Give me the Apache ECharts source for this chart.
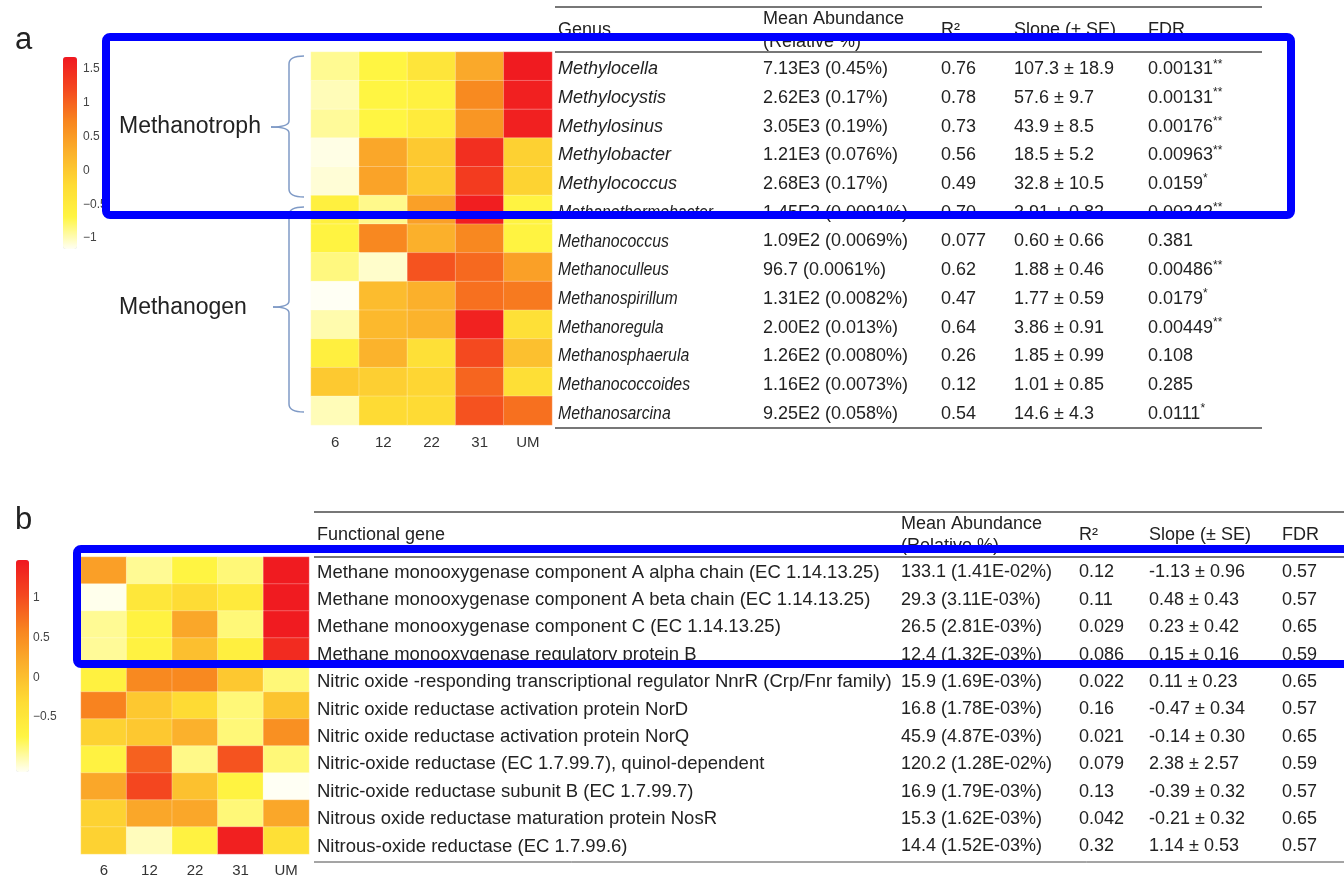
<!DOCTYPE html>
<html>
<head>
<meta charset="utf-8">
<script src="https://cdn.jsdelivr.net/npm/echarts@6/dist/echarts.min.js"></script>
<style>
  html, body { margin: 0; padding: 0; background: #fff; }
  #chart { width: 1344px; height: 878px; }
</style>
</head>
<body>
<div id="chart"></div>
<script>
// ---- data ----
const sites = ['6', '12', '22', '31', 'UM'];

// panel a: methane-cycling genera (z-scored abundance per site)
const genera = ['Methylocella', 'Methylocystis', 'Methylosinus', 'Methylobacter', 'Methylococcus',
  'Methanothermobacter', 'Methanococcus', 'Methanoculleus', 'Methanospirillum', 'Methanoregula',
  'Methanosphaerula', 'Methanococcoides', 'Methanosarcina'];
const genusHeat = [
  [-0.90, -0.68, -0.40, 0.35, 1.65],
  [-1.00, -0.68, -0.62, 0.68, 1.60],
  [-0.92, -0.68, -0.50, 0.55, 1.60],
  [-1.12, 0.38, 0.00, 1.45, -0.10],
  [-1.08, 0.42, 0.00, 1.33, -0.12],
  [-0.60, -0.88, 0.45, 1.62, -0.65],
  [-0.65, 0.70, 0.28, 0.70, -0.65],
  [-0.85, -1.05, 1.12, 0.95, 0.45],
  [-1.16, 0.15, 0.28, 0.90, 0.82],
  [-0.97, 0.18, 0.25, 1.58, -0.30],
  [-0.58, 0.25, -0.30, 1.20, 0.10],
  [0.00, -0.08, -0.15, 0.98, -0.28],
  [-1.00, -0.22, -0.22, 1.13, 0.90]
];
const genusAbundance = ['7.13E3 (0.45%)', '2.62E3 (0.17%)', '3.05E3 (0.19%)', '1.21E3 (0.076%)', '2.68E3 (0.17%)',
  '1.45E2 (0.0091%)', '1.09E2 (0.0069%)', '96.7 (0.0061%)', '1.31E2 (0.0082%)', '2.00E2 (0.013%)',
  '1.26E2 (0.0080%)', '1.16E2 (0.0073%)', '9.25E2 (0.058%)'];
const genusR2 = ['0.76', '0.78', '0.73', '0.56', '0.49', '0.70', '0.077', '0.62', '0.47', '0.64', '0.26', '0.12', '0.54'];
const genusSlope = ['107.3 ± 18.9', '57.6 ± 9.7', '43.9 ± 8.5', '18.5 ± 5.2', '32.8 ± 10.5', '3.91 ± 0.82',
  '0.60 ± 0.66', '1.88 ± 0.46', '1.77 ± 0.59', '3.86 ± 0.91', '1.85 ± 0.99', '1.01 ± 0.85', '14.6 ± 4.3'];
const genusFDR = ['0.00131', '0.00131', '0.00176', '0.00963', '0.0159', '0.00242', '0.381', '0.00486',
  '0.0179', '0.00449', '0.108', '0.285', '0.0111'];
const genusStars = ['**', '**', '**', '**', '*', '**', '', '**', '*', '**', '', '', '*'];
const groupNames = ['Methanotroph', 'Methanogen'];

// panel b: functional genes
const genes = [
  'Methane monooxygenase component A alpha chain (EC 1.14.13.25)',
  'Methane monooxygenase component A beta chain (EC 1.14.13.25)',
  'Methane monooxygenase component C (EC 1.14.13.25)',
  'Methane monooxygenase regulatory protein B',
  'Nitric oxide -responding transcriptional regulator NnrR (Crp/Fnr family)',
  'Nitric oxide reductase activation protein NorD',
  'Nitric oxide reductase activation protein NorQ',
  'Nitric-oxide reductase (EC 1.7.99.7), quinol-dependent',
  'Nitric-oxide reductase subunit B (EC 1.7.99.7)',
  'Nitrous oxide reductase maturation protein NosR',
  'Nitrous-oxide reductase (EC 1.7.99.6)'
];
const geneHeat = [
  [0.33, -0.95, -0.73, -0.88, 1.45],
  [-1.17, -0.50, -0.32, -0.55, 1.45],
  [-0.95, -0.70, 0.25, -0.88, 1.45],
  [-0.96, -0.70, 0.00, -0.65, 1.30],
  [-0.68, 0.55, 0.55, -0.10, -0.88],
  [0.60, -0.10, -0.30, -0.88, -0.05],
  [-0.20, -0.10, 0.15, -0.88, 0.48],
  [-0.70, 0.85, -0.92, 0.95, -0.88],
  [0.25, 1.05, -0.02, -0.72, -1.19],
  [-0.20, 0.25, 0.25, -0.88, 0.25],
  [-0.20, -1.05, -0.70, 1.40, -0.38]
];
const geneAbundance = ['133.1 (1.41E-02%)', '29.3 (3.11E-03%)', '26.5 (2.81E-03%)', '12.4 (1.32E-03%)',
  '15.9 (1.69E-03%)', '16.8 (1.78E-03%)', '45.9 (4.87E-03%)', '120.2 (1.28E-02%)', '16.9 (1.79E-03%)',
  '15.3 (1.62E-03%)', '14.4 (1.52E-03%)'];
const geneR2 = ['0.12', '0.11', '0.029', '0.086', '0.022', '0.16', '0.021', '0.079', '0.13', '0.042', '0.32'];
const geneSlope = ['-1.13 ± 0.96', '0.48 ± 0.43', '0.23 ± 0.42', '0.15 ± 0.16', '0.11 ± 0.23', '-0.47 ± 0.34',
  '-0.14 ± 0.30', '2.38 ± 2.57', '-0.39 ± 0.32', '-0.21 ± 0.32', '1.14 ± 0.53'];
const geneFDR = ['0.57', '0.57', '0.65', '0.59', '0.65', '0.57', '0.65', '0.59', '0.57', '0.65', '0.57'];

// colour-scale tick labels
const legendTicksA = [-1, -0.5, 0, 0.5, 1, 1.5];
const legendTicksB = [-0.5, 0, 0.5, 1];
const rangeA = [-1.16, 1.68];
const rangeB = [-1.19, 1.475];

// ---- styling ----
const FONT = "'Liberation Sans', Arial, Helvetica, sans-serif";
const TEXT = '#222';
const palette = ['#fffff4', '#fff542', '#fedb34', '#fbb22c', '#f8851f', '#f4481f', '#f01820'];

function toCells(matrix, rows) {
  const out = [];
  matrix.forEach((row, r) => row.forEach((v, c) => out.push([c, rows[r], v])));
  return out;
}
const minus = v => (v < 0 ? '\u2212' + Math.abs(v) : String(v));

const chart = echarts.init(document.getElementById('chart'), null, { renderer: 'canvas' });

const heatX = (gridIndex, margin) => ({
  type: 'category', gridIndex, data: sites, position: 'bottom',
  axisLine: { show: false }, axisTick: { show: false }, splitArea: { show: false },
  axisLabel: { color: '#333', fontSize: 15, fontFamily: FONT, margin }
});
const heatY = (gridIndex, rows) => ({
  type: 'category', gridIndex, data: rows, inverse: true, show: false
});
const legendY = (gridIndex, range, ticks) => ({
  type: 'value', gridIndex, min: range[0], max: range[1], position: 'right',
  axisLine: { show: false }, axisTick: { show: false }, splitLine: { show: false },
  axisLabel: { customValues: ticks, formatter: minus, color: '#444', fontSize: 12, fontFamily: FONT, margin: 2 }
});

chart.setOption({
  animation: false,
  backgroundColor: '#fff',
  textStyle: { fontFamily: FONT },
  grid: [
    { left: 311, top: 52, width: 241, height: 373 },
    { left: 81, top: 557, width: 228, height: 302 },
    { left: 80, top: 57, width: 1, height: 192 },
    { left: 30, top: 560, width: 1, height: 212 }
  ],
  xAxis: [
    heatX(0, 10), heatX(1, 9),
    { type: 'value', gridIndex: 2, show: false },
    { type: 'value', gridIndex: 3, show: false }
  ],
  yAxis: [
    heatY(0, genera), heatY(1, genes),
    legendY(2, rangeA, legendTicksA),
    legendY(3, rangeB, legendTicksB)
  ],
  visualMap: [
    { type: 'continuous', seriesIndex: 0, min: rangeA[0], max: rangeA[1], calculable: false,
      orient: 'vertical', left: 63, top: 57, itemWidth: 14, itemHeight: 192, padding: 0,
      showLabel: false, inRange: { color: palette } },
    { type: 'continuous', seriesIndex: 1, min: rangeB[0], max: rangeB[1], calculable: false,
      orient: 'vertical', left: 16, top: 560, itemWidth: 13, itemHeight: 212, padding: 0,
      showLabel: false, inRange: { color: palette } }
  ],
  series: [
    { type: 'heatmap', xAxisIndex: 0, yAxisIndex: 0, data: toCells(genusHeat, genera),
      itemStyle: { borderColor: 'rgba(255,255,255,0.35)', borderWidth: 0.8 }, emphasis: { disabled: true } },
    { type: 'heatmap', xAxisIndex: 1, yAxisIndex: 1, data: toCells(geneHeat, genes),
      itemStyle: { borderColor: 'rgba(255,255,255,0.35)', borderWidth: 0.8 }, emphasis: { disabled: true } }
  ]
});

// ---- table text, brackets and highlight frames ----
const g = [];
const txt = (text, x, y, opt = {}, scaleX = 1) => g.push({
  type: 'text', z: 10, x, y, scaleX,
  style: Object.assign({ text, x: 0, y: 0, fill: TEXT, fontSize: 18, fontFamily: FONT, verticalAlign: 'middle' }, opt)
});
const hline = (x1, x2, y, w = 1.5) => g.push({
  type: 'line', z: 10, shape: { x1, y1: y, x2, y2: y }, style: { stroke: '#4a4a4a', lineWidth: w }
});
const fdrText = (v, s, x, y) => g.push({
  type: 'text', z: 10,
  style: {
    text: '{v|' + v + '}' + (s ? '{s|' + s + '}' : ''), x, y, verticalAlign: 'middle',
    rich: {
      v: { fontSize: 18, fontFamily: FONT, fill: TEXT, color: TEXT },
      s: { fontSize: 12, fontFamily: FONT, fill: TEXT, color: TEXT, padding: [0, 0, 10, 0] }
    }
  }
});
const rowY = (axis, name) => chart.convertToPixel({ yAxisIndex: axis }, name);

// panel a table
hline(555, 1262, 7);
hline(555, 1262, 52);
hline(555, 1262, 428);
txt('Genus', 558, 30);
txt('Mean Abundance', 763, 19);
txt('(Relative %)', 763, 42);
txt('R\u00B2', 941, 30);
txt('Slope (\u00B1 SE)', 1014, 30);
txt('FDR', 1148, 30);
genera.forEach((name, i) => {
  const y = rowY(0, name) + 3;
  txt(name, 558, y, { fontStyle: 'italic' }, i < 5 ? 1 : 0.88);
  txt(genusAbundance[i], 763, y);
  txt(genusR2[i], 941, y);
  txt(genusSlope[i], 1014, y);
  fdrText(genusFDR[i], genusStars[i], 1148, y);
});

// panel b table
hline(314, 1344, 512);
hline(314, 1344, 557);
hline(314, 1344, 862, 1);
txt('Functional gene', 317, 535);
txt('Mean Abundance', 901, 524);
txt('(Relative %)', 901, 546);
txt('R\u00B2', 1079, 535);
txt('Slope (\u00B1 SE)', 1149, 535);
txt('FDR', 1282, 535);
genes.forEach((name, i) => {
  const y = rowY(1, name) + 2 + i * 0.4;
  txt(name, 317, y, { fontSize: 18.5 });
  txt(geneAbundance[i], 901, y);
  txt(geneR2[i], 1079, y);
  txt(geneSlope[i], 1149, y);
  txt(geneFDR[i], 1282, y);
});

// group brackets
function brace(y1, y2, ym, xv, xh, xt) {
  const st = { stroke: '#7f9ac6', lineWidth: 1.5, fill: 'none' };
  g.push({ type: 'bezierCurve', z: 10, shape: { x1: xh, y1, x2: xv, y2: y1 + 8, cpx1: xv, cpy1: y1 }, style: st });
  g.push({ type: 'line', z: 10, shape: { x1: xv, y1: y1 + 8, x2: xv, y2: ym - 6 }, style: st });
  g.push({ type: 'bezierCurve', z: 10, shape: { x1: xv, y1: ym - 6, x2: xt, y2: ym, cpx1: xv, cpy1: ym }, style: st });
  g.push({ type: 'bezierCurve', z: 10, shape: { x1: xt, y1: ym, x2: xv, y2: ym + 6, cpx1: xv, cpy1: ym }, style: st });
  g.push({ type: 'line', z: 10, shape: { x1: xv, y1: ym + 6, x2: xv, y2: y2 - 8 }, style: st });
  g.push({ type: 'bezierCurve', z: 10, shape: { x1: xv, y1: y2 - 8, x2: xh, y2, cpx1: xv, cpy1: y2 }, style: st });
}
brace(56, 197, 127, 289, 304, 271);
brace(207, 412, 307, 289, 304, 273);
txt(groupNames[0], 119, 127, { fontSize: 23 });
txt(groupNames[1], 119, 308, { fontSize: 23 });

// panel letters
txt('a', 15, 40, { fontSize: 31 });
txt('b', 15, 520, { fontSize: 31 });

// highlight frames
g.push({ type: 'rect', z: 100, shape: { x: 106, y: 37, width: 1185, height: 178, r: 4 },
  style: { fill: 'none', stroke: '#0000ff', lineWidth: 8 } });
g.push({ type: 'rect', z: 100, shape: { x: 77, y: 549, width: 1300, height: 115, r: 4 },
  style: { fill: 'none', stroke: '#0000ff', lineWidth: 8 } });

chart.setOption({ graphic: g });
</script>
</body>
</html>
